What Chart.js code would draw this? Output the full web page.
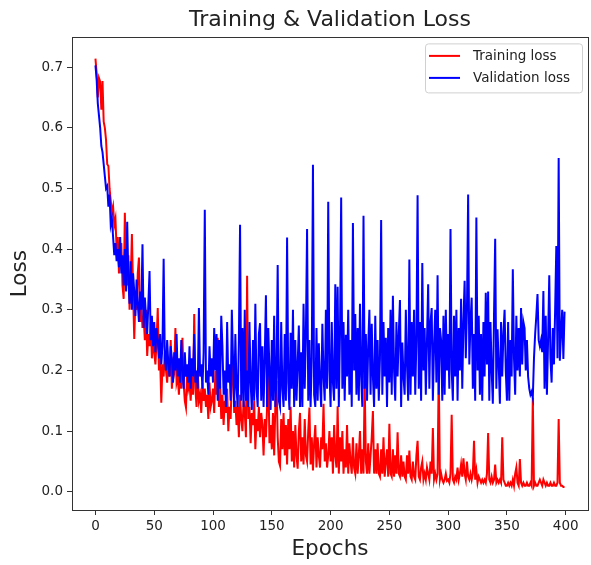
<!DOCTYPE html>
<html>
<head>
<meta charset="utf-8">
<script src="https://cdn.jsdelivr.net/npm/chart.js@4.4.0/dist/chart.umd.min.js"></script>
<style>
  body { margin: 0; background: #fff; }
  canvas { display: block; }
</style>
</head>
<body>
<canvas id="lossChart" width="591" height="565"></canvas>
<script>
// Tick labels
const xTicks = [0, 50, 100, 150, 200, 250, 300, 350, 400];
const yTicks = [0.0, 0.1, 0.2, 0.3, 0.4, 0.5, 0.6, 0.7];

// Series (one value per epoch)
const trainLoss = [
  0.714, 0.690, 0.650, 0.682, 0.676, 0.630, 0.677, 0.610, 0.600, 0.580,
  0.540, 0.537, 0.500, 0.480, 0.460, 0.470, 0.440, 0.450, 0.400, 0.420,
  0.360, 0.380, 0.410, 0.340, 0.318, 0.460, 0.370, 0.340, 0.390, 0.300,
  0.350, 0.425, 0.330, 0.252, 0.320, 0.300, 0.360, 0.386, 0.280, 0.310,
  0.270, 0.290, 0.250, 0.300, 0.224, 0.260, 0.240, 0.280, 0.220, 0.250,
  0.230, 0.210, 0.250, 0.303, 0.200, 0.220, 0.147, 0.210, 0.190, 0.230,
  0.200, 0.180, 0.220, 0.190, 0.250, 0.170, 0.210, 0.200, 0.270, 0.180,
  0.190, 0.160, 0.210, 0.170, 0.254, 0.180, 0.150, 0.139, 0.200, 0.170,
  0.180, 0.150, 0.190, 0.160, 0.293, 0.170, 0.140, 0.200, 0.150, 0.160,
  0.130, 0.180, 0.150, 0.170, 0.140, 0.160, 0.120, 0.180, 0.140, 0.150,
  0.170, 0.130, 0.200, 0.160, 0.254, 0.140, 0.180, 0.120, 0.160, 0.110,
  0.150, 0.130, 0.170, 0.100, 0.140, 0.120, 0.190, 0.224, 0.130, 0.150,
  0.110, 0.140, 0.090, 0.160, 0.120, 0.100, 0.150, 0.130, 0.090, 0.356,
  0.120, 0.140, 0.080, 0.130, 0.110, 0.150, 0.070, 0.120, 0.100, 0.140,
  0.090, 0.130, 0.110, 0.060, 0.120, 0.090, 0.140, 0.204, 0.080, 0.110,
  0.070, 0.130, 0.060, 0.140, 0.183, 0.090, 0.050, 0.043, 0.120, 0.070,
  0.130, 0.060, 0.110, 0.045, 0.120, 0.070, 0.140, 0.050, 0.100, 0.040,
  0.110, 0.060, 0.038, 0.100, 0.130, 0.050, 0.090, 0.045, 0.120, 0.060,
  0.050, 0.100, 0.139, 0.045, 0.090, 0.035, 0.080, 0.110, 0.040, 0.090,
  0.060, 0.040, 0.090, 0.070, 0.145, 0.050, 0.080, 0.040, 0.060, 0.100,
  0.050, 0.090, 0.030, 0.110, 0.060, 0.040, 0.141, 0.030, 0.090, 0.050,
  0.100, 0.030, 0.070, 0.040, 0.110, 0.030, 0.080, 0.050, 0.030, 0.090,
  0.040, 0.030, 0.080, 0.030, 0.060, 0.100, 0.030, 0.070, 0.030, 0.183,
  0.050, 0.030, 0.080, 0.030, 0.060, 0.090, 0.133, 0.030, 0.070, 0.030,
  0.080, 0.030, 0.025, 0.070, 0.030, 0.090, 0.025, 0.050, 0.070, 0.025,
  0.112, 0.030, 0.025, 0.070, 0.025, 0.060, 0.030, 0.098, 0.030, 0.025,
  0.060, 0.025, 0.050, 0.025, 0.020, 0.060, 0.030, 0.068, 0.025, 0.020,
  0.050, 0.025, 0.020, 0.060, 0.084, 0.025, 0.020, 0.040, 0.050, 0.020,
  0.030, 0.020, 0.040, 0.030, 0.020, 0.050, 0.030, 0.105, 0.020, 0.030,
  0.020, 0.030, 0.200, 0.020, 0.030, 0.020, 0.015, 0.020, 0.030, 0.018,
  0.020, 0.015, 0.030, 0.127, 0.020, 0.015, 0.025, 0.020, 0.040, 0.020,
  0.030, 0.045, 0.025, 0.055, 0.030, 0.020, 0.050, 0.025, 0.020, 0.030,
  0.020, 0.030, 0.084, 0.020, 0.035, 0.015, 0.025, 0.020, 0.015, 0.020,
  0.015, 0.020, 0.015, 0.030, 0.097, 0.020, 0.015, 0.025, 0.015, 0.020,
  0.045, 0.015, 0.020, 0.015, 0.020, 0.015, 0.090, 0.020, 0.015, 0.010,
  0.010, 0.015, 0.010, 0.015, 0.010, 0.020, 0.010, 0.030, 0.040, 0.015,
  0.010, 0.054, 0.015, 0.010, 0.015, 0.010, 0.010, 0.015, 0.010, 0.010,
  0.015, 0.010, 0.155, 0.010, 0.015, 0.010, 0.010, 0.015, 0.020, 0.015,
  0.010, 0.020, 0.015, 0.010, 0.015, 0.010, 0.010, 0.015, 0.010, 0.010,
  0.015, 0.010, 0.010, 0.015, 0.120, 0.015, 0.010, 0.010, 0.008, 0.008
];

const valLoss = [
  0.703, 0.680, 0.640, 0.620, 0.600, 0.570, 0.560, 0.540, 0.520, 0.500,
  0.504, 0.470, 0.490, 0.440, 0.450, 0.420, 0.390, 0.410, 0.380, 0.400,
  0.370, 0.420, 0.360, 0.390, 0.340, 0.400, 0.330, 0.445, 0.350, 0.310,
  0.380, 0.300, 0.360, 0.330, 0.290, 0.350, 0.310, 0.280, 0.330, 0.300,
  0.408, 0.270, 0.320, 0.290, 0.260, 0.310, 0.364, 0.250, 0.290, 0.240,
  0.280, 0.230, 0.270, 0.250, 0.220, 0.260, 0.210, 0.240, 0.384, 0.220,
  0.200, 0.250, 0.210, 0.190, 0.240, 0.220, 0.180, 0.230, 0.200, 0.260,
  0.190, 0.220, 0.180, 0.250, 0.200, 0.170, 0.230, 0.190, 0.210, 0.180,
  0.240, 0.170, 0.220, 0.190, 0.260, 0.180, 0.200, 0.170, 0.303, 0.190,
  0.210, 0.170, 0.230, 0.465, 0.180, 0.200, 0.160, 0.240, 0.190, 0.220,
  0.180, 0.270, 0.200, 0.260, 0.150, 0.250, 0.170, 0.290, 0.240, 0.160,
  0.200, 0.140, 0.280, 0.180, 0.210, 0.150, 0.300, 0.220, 0.140, 0.260,
  0.170, 0.140, 0.250, 0.440, 0.150, 0.270, 0.140, 0.300, 0.150, 0.200,
  0.140, 0.280, 0.180, 0.135, 0.250, 0.150, 0.310, 0.170, 0.140, 0.260,
  0.278, 0.150, 0.240, 0.140, 0.220, 0.324, 0.140, 0.270, 0.200, 0.135,
  0.250, 0.150, 0.290, 0.140, 0.190, 0.374, 0.150, 0.140, 0.280, 0.170,
  0.140, 0.260, 0.150, 0.419, 0.180, 0.135, 0.262, 0.170, 0.300, 0.140,
  0.250, 0.150, 0.210, 0.274, 0.140, 0.230, 0.140, 0.310, 0.170, 0.260,
  0.433, 0.150, 0.250, 0.140, 0.220, 0.539, 0.160, 0.140, 0.270, 0.150,
  0.245, 0.180, 0.140, 0.277, 0.190, 0.150, 0.300, 0.170, 0.478, 0.200,
  0.140, 0.280, 0.180, 0.150, 0.342, 0.170, 0.338, 0.140, 0.260, 0.485,
  0.170, 0.280, 0.150, 0.259, 0.190, 0.300, 0.160, 0.250, 0.140, 0.443,
  0.200, 0.293, 0.160, 0.270, 0.150, 0.310, 0.190, 0.140, 0.455, 0.170,
  0.260, 0.150, 0.240, 0.300, 0.160, 0.277, 0.190, 0.140, 0.290, 0.170,
  0.250, 0.150, 0.220, 0.448, 0.160, 0.280, 0.190, 0.254, 0.140, 0.270,
  0.180, 0.300, 0.160, 0.323, 0.200, 0.150, 0.280, 0.190, 0.260, 0.316,
  0.140, 0.246, 0.190, 0.160, 0.300, 0.210, 0.150, 0.383, 0.160, 0.280,
  0.190, 0.300, 0.160, 0.250, 0.489, 0.170, 0.280, 0.150, 0.377, 0.200,
  0.270, 0.160, 0.250, 0.342, 0.170, 0.280, 0.303, 0.150, 0.240, 0.300,
  0.180, 0.357, 0.160, 0.270, 0.250, 0.150, 0.290, 0.160, 0.300, 0.200,
  0.260, 0.170, 0.433, 0.200, 0.150, 0.290, 0.190, 0.300, 0.150, 0.270,
  0.200, 0.318, 0.170, 0.280, 0.348, 0.220, 0.300, 0.490, 0.210, 0.280,
  0.320, 0.170, 0.260, 0.150, 0.452, 0.200, 0.290, 0.160, 0.260, 0.150,
  0.280, 0.190, 0.328, 0.210, 0.330, 0.150, 0.280, 0.200, 0.145, 0.290,
  0.417, 0.170, 0.268, 0.210, 0.145, 0.280, 0.190, 0.260, 0.300, 0.200,
  0.150, 0.280, 0.150, 0.250, 0.190, 0.367, 0.220, 0.160, 0.290, 0.200,
  0.270, 0.190, 0.303, 0.210, 0.280, 0.270, 0.200, 0.250, 0.190, 0.170,
  0.160, 0.165, 0.155, 0.220, 0.260, 0.290, 0.326, 0.250, 0.240, 0.250,
  0.230, 0.331, 0.170, 0.290, 0.160, 0.250, 0.357, 0.220, 0.180, 0.270,
  0.210, 0.300, 0.405, 0.220, 0.550, 0.216, 0.260, 0.300, 0.219, 0.297
];

const epochs = trainLoss.map((v, i) => i);

const FONT = "'DejaVu Sans', sans-serif";
const INK = "#222222";

// box around the plot, like matplotlib spines
const framePlugin = {
  id: "frame",
  afterDatasetsDraw(chart) {
    const a = chart.chartArea;
    const ctx = chart.ctx;
    ctx.save();
    ctx.strokeStyle = "#333333";
    ctx.lineWidth = 1;
    ctx.strokeRect(Math.round(a.left) + 0.5, Math.round(a.top) + 0.5,
      Math.round(a.right - a.left), Math.round(a.bottom - a.top));
    ctx.restore();
  }
};

// legend box in upper right corner
const legendPlugin = {
  id: "boxLegend",
  afterDraw(chart) {
    const ctx = chart.ctx;
    const a = chart.chartArea;
    const w = 157, h = 49;
    const x = a.right - 6 - w, y = a.top + 6;
    ctx.save();
    ctx.fillStyle = "rgba(255,255,255,0.8)";
    ctx.strokeStyle = "#d0d0d0";
    ctx.lineWidth = 1;
    ctx.beginPath();
    ctx.roundRect(x + 0.5, y + 0.5, w, h, 3);
    ctx.fill();
    ctx.stroke();
    ctx.font = "13.5px " + FONT;
    ctx.textBaseline = "middle";
    chart.data.datasets.forEach((ds, i) => {
      const ly = y + 12.5 + i * 22;
      ctx.strokeStyle = ds.borderColor;
      ctx.lineWidth = 2;
      ctx.beginPath();
      ctx.moveTo(x + 4, ly);
      ctx.lineTo(x + 35, ly);
      ctx.stroke();
      ctx.fillStyle = INK;
      ctx.fillText(ds.label, x + 48, ly + 1);
    });
    ctx.restore();
  }
};

new Chart(document.getElementById("lossChart"), {
  type: "line",
  data: {
    datasets: [{
      label: "Training loss",
      data: epochs.map((e, i) => ({ x: e, y: trainLoss[i] })),
      borderColor: "#ff0000",
      borderWidth: 2,
      pointRadius: 0,
      tension: 0,
      order: 2
    }, {
      label: "Validation loss",
      data: epochs.map((e, i) => ({ x: e, y: valLoss[i] })),
      borderColor: "#0000ff",
      borderWidth: 2,
      pointRadius: 0,
      tension: 0,
      order: 1
    }]
  },
  options: {
    responsive: false,
    animation: false,
    layout: { padding: { left: 0, right: 3, top: 0, bottom: 0 } },
    plugins: {
      legend: { display: false },
      tooltip: { enabled: false },
      title: {
        display: true,
        text: "Training & Validation Loss",
        fullSize: false,
        color: INK,
        font: { family: FONT, size: 22, weight: "normal" },
        padding: { top: 7, bottom: 4 }
      }
    },
    scales: {
      x: {
        type: "linear",
        min: -19.95,
        max: 418.95,
        afterBuildTicks: s => { s.ticks = xTicks.map(v => ({ value: v })); },
        afterFit: s => { s.height = 55; },
        border: { display: false },
        grid: { drawOnChartArea: false, drawTicks: true, tickLength: 5, color: "#333333" },
        ticks: {
          color: INK, padding: 3, maxRotation: 0, autoSkip: false,
          font: { family: FONT, size: 13.5 },
          callback: v => String(v)
        },
        title: {
          display: true, text: "Epochs", color: INK,
          font: { family: FONT, size: 21.5 },
          padding: { top: 0, bottom: 3 }
        }
      },
      y: {
        type: "linear",
        min: -0.03,
        max: 0.749,
        afterBuildTicks: s => { s.ticks = yTicks.map(v => ({ value: v })); },
        afterFit: s => { s.width = 72; },
        border: { display: false },
        grid: { drawOnChartArea: false, drawTicks: true, tickLength: 5, color: "#333333" },
        ticks: {
          color: INK, padding: 4, autoSkip: false,
          font: { family: FONT, size: 13.5 },
          callback: v => v.toFixed(1)
        },
        title: {
          display: true, text: "Loss", color: INK,
          font: { family: FONT, size: 21.5 },
          padding: { top: 8, bottom: 0 }
        }
      }
    }
  },
  plugins: [framePlugin, legendPlugin]
});
</script>
</body>
</html>
